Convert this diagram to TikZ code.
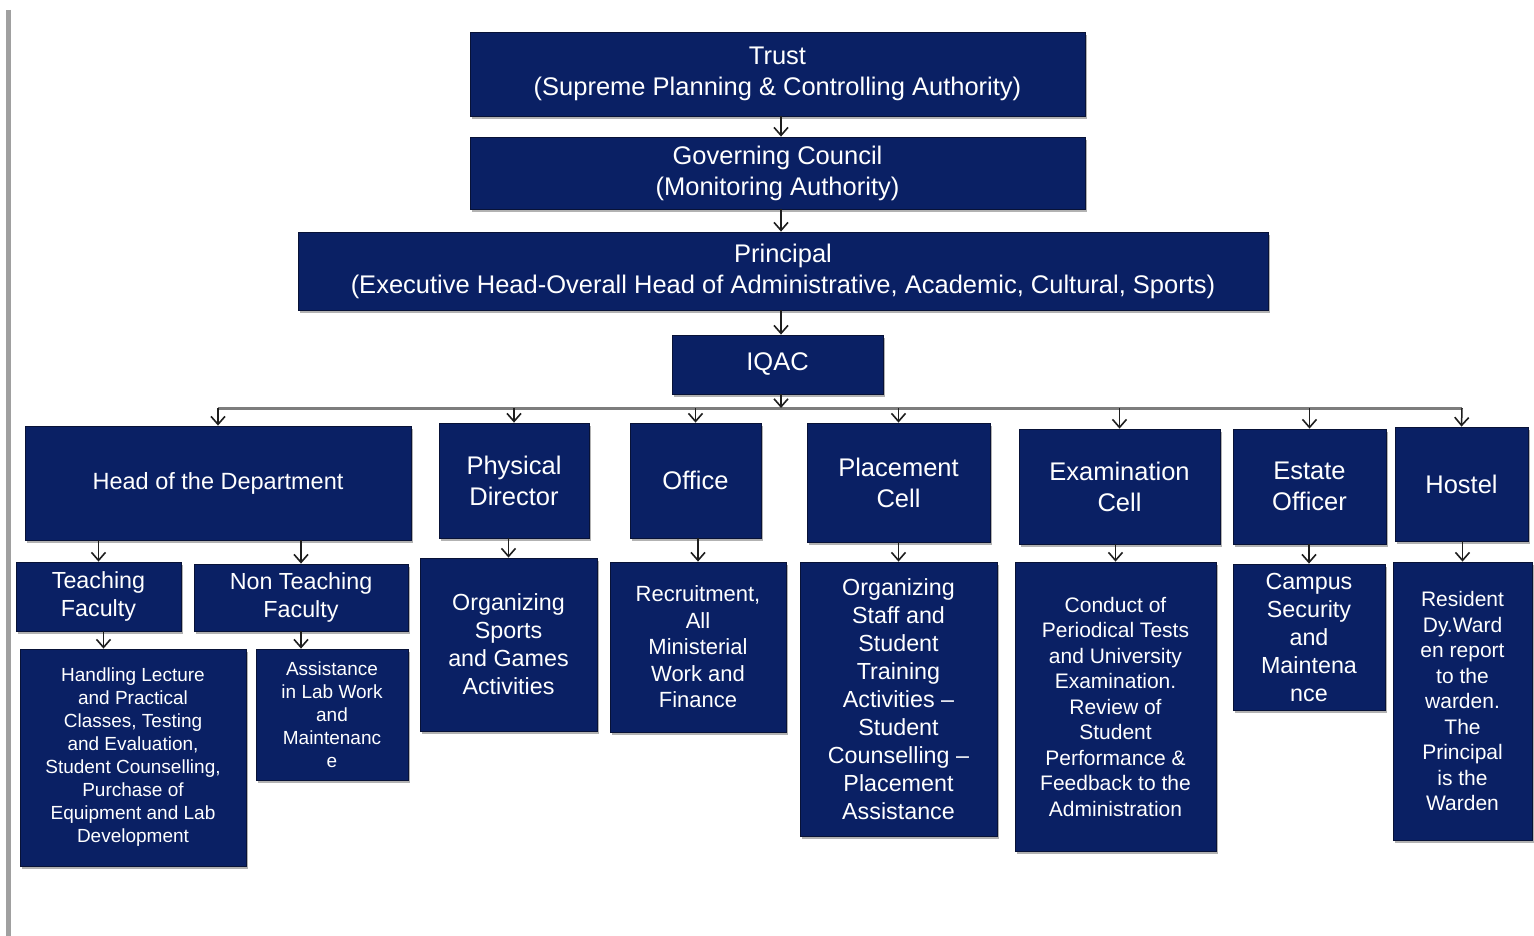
\documentclass[tikz,border=0pt]{standalone}
\usepackage{fontspec}
\setmainfont{Liberation Sans}
\usetikzlibrary{arrows.meta,shadows,calc}
\definecolor{navy}{RGB}{10,32,100}
\definecolor{navyedge}{RGB}{8,18,55}
\definecolor{busgray}{RGB}{125,125,125}
\definecolor{edgegray}{RGB}{160,160,160}
\newcommand\myfTop{\fontsize{25.5}{31}\selectfont}
\newcommand\myfHod{\fontsize{23.5}{29}\selectfont}
\newcommand\myfMid{\fontsize{23.3}{28}\selectfont}
\newcommand\myfRec{\fontsize{22}{26.5}\selectfont}
\newcommand\myfSm{\fontsize{21}{25.5}\selectfont}
\newcommand\myfXs{\fontsize{19}{23}\selectfont}
\tikzset{
  box/.style={draw=navyedge, line width=0.8pt, fill=navy, text=white,
    inner sep=0pt, align=center,
    drop shadow={shadow xshift=2pt, shadow yshift=-3pt, fill=black, opacity=0.3}},
  arr/.style={draw={rgb,255:red,30;green,30;blue,30}, line width=1.5pt,
    -{Straight Barb[length=8pt,width=14pt,line width=1.6pt]}},
  busline/.style={draw=busgray, line width=3pt}
}
\begin{document}
\begin{tikzpicture}[x=1pt,y=-1pt]
\useasboundingbox[fill=white] (0,0) rectangle (1534,936);
\draw[edgegray, line width=5pt] (8.5,10) -- (8.5,936);

% top chain
\node[box, minimum width=615pt, minimum height=84pt, font=\myfTop] (trust) at (777.5,74)
  {\rule{0pt}{6pt}Trust\\(Supreme Planning \& Controlling Authority)};
\node[box, minimum width=615pt, minimum height=72pt, font=\myfTop] (gc) at (777.5,173)
  {\rule{0pt}{6pt}Governing Council\\(Monitoring Authority)};
\node[box, minimum width=970pt, minimum height=78pt, font=\myfTop] (prin) at (783,271)
  {\rule{0pt}{6pt}Principal\\(Executive Head-Overall Head of Administrative, Academic, Cultural, Sports)};
\node[box, minimum width=211pt, minimum height=59pt, font=\myfTop] (iqac) at (777.5,364.5)
  {IQAC};

\coordinate (spine) at (781,0);
\coordinate (busL) at (218,408);
\coordinate (busR) at (1462,408);

% row 2
\node[box, minimum width=386pt, minimum height=114pt, font=\myfHod] (hod) at (218,483)
  {Head of the Department};
\node[box, minimum width=150pt, minimum height=115pt, font=\myfTop] (pd) at (514,480.5)
  {Physical\\Director};
\node[box, minimum width=131pt, minimum height=115pt, font=\myfTop] (office) at (695.5,480.5)
  {Office};
\node[box, minimum width=183pt, minimum height=119pt, font=\myfTop] (place) at (898.5,482.5)
  {Placement\\Cell};
\node[box, minimum width=201pt, minimum height=115pt, font=\myfTop] (exam) at (1119.5,486.5)
  {Examination\\Cell};
\node[box, minimum width=153pt, minimum height=115pt, font=\myfTop] (estate) at (1309.5,486.5)
  {Estate\\Officer};
\node[box, minimum width=133pt, minimum height=114pt, font=\myfTop] (hostel) at (1461.5,484)
  {Hostel};

% row 3
\node[box, minimum width=165pt, minimum height=69pt, font=\myfMid] (tf) at (98.5,596.5)
  {Teaching\\Faculty};
\node[box, minimum width=214pt, minimum height=67pt, font=\myfMid] (ntf) at (301,597.5)
  {Non Teaching\\Faculty};
\node[box, minimum width=226pt, minimum height=217pt, font=\myfXs] (hand) at (133,757.5)
  {Handling Lecture\\and Practical\\Classes, Testing\\and Evaluation,\\Student Counselling,\\Purchase of\\Equipment and Lab\\Development};
\node[box, minimum width=152pt, minimum height=131pt, font=\myfXs] (assist) at (332,714.5)
  {Assistance\\in Lab Work\\and\\Maintenanc\\e};
\node[box, minimum width=177pt, minimum height=173pt, font=\myfMid] (orgsp) at (508.5,644.5)
  {Organizing\\Sports\\and Games\\Activities};
\node[box, minimum width=176pt, minimum height=170pt, font=\myfRec] (recr) at (698,647)
  {Recruitment,\\All\\Ministerial\\Work and\\Finance};
\node[box, minimum width=197pt, minimum height=274pt, font=\myfMid] (orgst) at (898.5,699)
  {Organizing\\Staff and\\Student\\Training\\Activities --\\Student\\Counselling --\\Placement\\Assistance};
\node[box, minimum width=201pt, minimum height=289pt, font=\myfSm] (cond) at (1115.5,706.5)
  {Conduct of\\Periodical Tests\\and University\\Examination.\\Review of\\Student\\Performance \&\\Feedback to the\\Administration};
\node[box, minimum width=152pt, minimum height=146pt, font=\myfMid] (campus) at (1309,637)
  {Campus\\Security\\and\\Maintena\\nce};
\node[box, minimum width=139pt, minimum height=278pt, font=\myfSm] (resid) at (1462.5,701)
  {Resident\\Dy.Ward\\en report\\to the\\warden.\\The\\Principal\\is the\\Warden};

% top chain arrows
\draw[arr] (trust.south -| spine) -- (gc.north -| spine);
\draw[arr] (gc.south -| spine) -- (prin.north -| spine);
\draw[arr] (prin.south -| spine) -- (iqac.north -| spine);

% bus
\draw[busline, rounded corners=3pt] (busL) -- (busR);
\draw[arr] (iqac.south -| spine) -- (spine |- busL);

% bus to row 2
\draw[arr] (busL) -- (hod.north);
\draw[arr] (pd.north |- busL) -- (pd.north);
\draw[arr] (office.north |- busL) -- (office.north);
\draw[arr] (place.north |- busL) -- (place.north);
\draw[arr] (exam.north |- busL) -- (exam.north);
\draw[arr] (estate.north |- busL) -- (estate.north);
\draw[arr] (busR) -- (hostel.north);

% row 2 to row 3
\draw[arr] (tf.north |- hod.south) -- (tf.north);
\draw[arr] (ntf.north |- hod.south) -- (ntf.north);
\draw[arr] ([xshift=5pt]tf.south) -- ([xshift=5pt]tf.south |- hand.north);
\draw[arr] (ntf.south) -- (ntf.south |- assist.north);
\draw[arr] (orgsp.north |- pd.south) -- (orgsp.north);
\draw[arr] (recr.north |- office.south) -- (recr.north);
\draw[arr] (orgst.north |- place.south) -- (orgst.north);
\draw[arr] (cond.north |- exam.south) -- (cond.north);
\draw[arr] (campus.north |- estate.south) -- (campus.north);
\draw[arr] (resid.north |- hostel.south) -- (resid.north);
\end{tikzpicture}
\end{document}
